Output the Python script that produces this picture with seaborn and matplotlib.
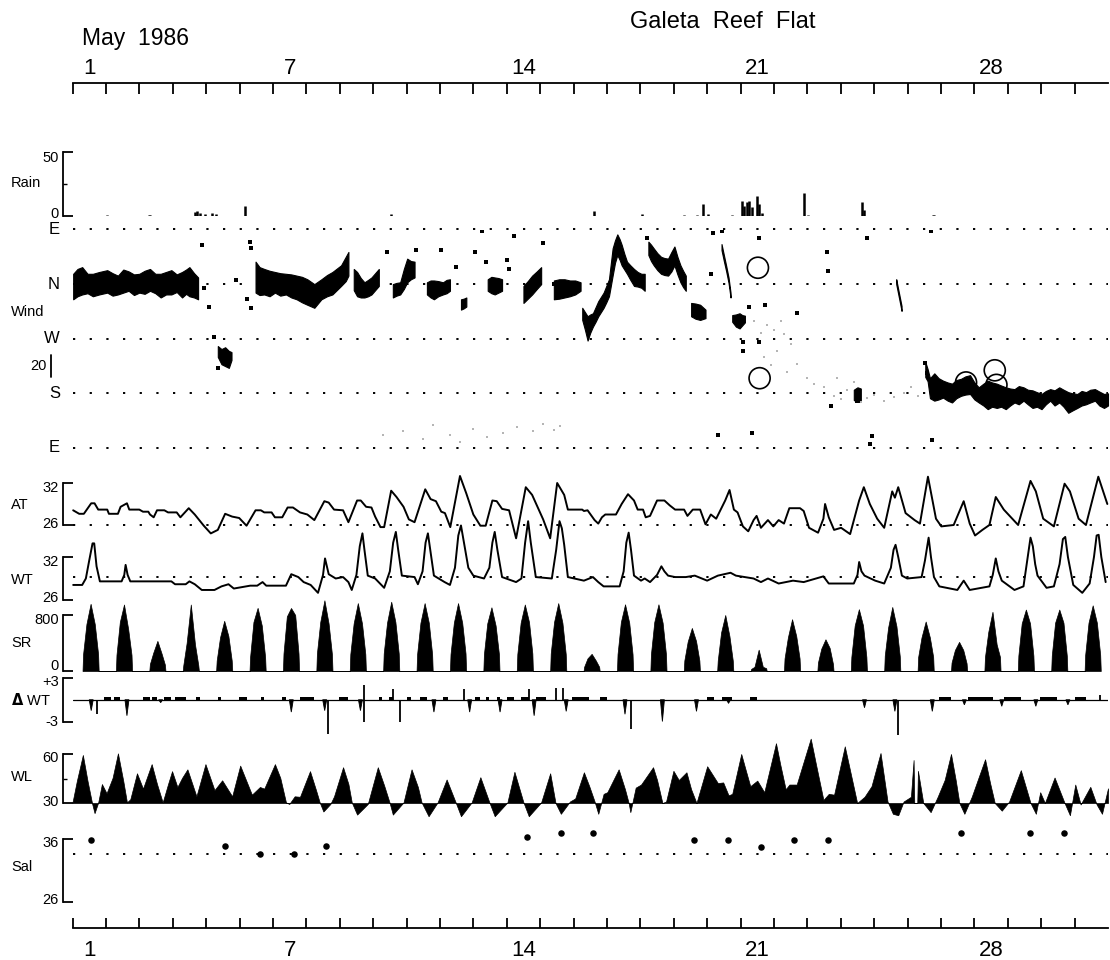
import matplotlib
matplotlib.use("Agg")
import matplotlib.pyplot as plt
from matplotlib.lines import Line2D
from matplotlib.transforms import ScaledTranslation
import seaborn as sns

sns.set_theme(style="white")
plt.rcParams['font.family'] = ['Liberation Sans', 'DejaVu Sans']
plt.rcParams['lines.scale_dashes'] = False
for key in ('text.color', 'axes.labelcolor', 'xtick.color', 'ytick.color'):
    plt.rcParams[key] = 'black'

# ---------------------------------------------------------------- data
# Rain (mm), spikes by time (day of May)
rain_day = [2.04, 3.29, 3.33, 4.66, 4.73, 4.82, 4.98, 5.19, 5.30, 6.16, 10.54,
            16.62, 18.06, 19.32, 19.69, 19.87, 20.04, 20.74, 21.04, 21.11, 21.19,
            21.26, 21.33, 21.48, 21.56, 21.63, 22.90, 23.03, 24.63, 24.70, 26.75, 26.80]
rain_mm = [0.6, 1.0, 0.8, 3.0, 4.0, 2.0, 1.5, 2.5, 1.5, 7.8, 1.5,
           3.6, 1.8, 1.0, 0.8, 9.4, 1.8, 0.8, 12.0, 8.0, 10.7,
           12.0, 7.0, 15.8, 9.4, 2.5, 17.6, 1.0, 10.7, 4.3, 1.0, 0.8]

# Wind direction traces (day, lower deg, upper deg); E=90, S=180, W=270, N=360, E=450
wind_segments = [
    [(1.02, 335, 377), (1.15, 340, 385), (1.29, 343, 388), (1.45, 345, 377), (1.61, 340, 377),
     (1.80, 343, 380), (2.04, 346, 383), (2.20, 341, 378), (2.36, 343, 374), (2.52, 346, 384),
     (2.68, 349, 381), (2.84, 342, 376), (3.00, 346, 377), (3.16, 344, 382), (3.32, 349, 385),
     (3.48, 345, 377), (3.64, 338, 377), (3.80, 343, 380), (3.96, 343, 383), (4.12, 347, 376),
     (4.28, 338, 380), (4.40, 344, 384), (4.50, 340, 388), (4.64, 338, 378), (4.76, 335, 371)],
    [(5.35, 240, 258), (5.46, 228, 253), (5.57, 225, 256), (5.68, 222, 250), (5.76, 235, 248)],
    [(6.48, 346, 397), (6.60, 342, 388), (6.74, 343, 385), (6.90, 340, 382), (7.06, 346, 380),
     (7.22, 341, 378), (7.39, 343, 377), (7.55, 338, 376), (7.71, 335, 374), (7.87, 330, 372),
     (8.03, 326, 368), (8.24, 321, 360), (8.45, 335, 368), (8.62, 340, 375), (8.78, 343, 380),
     (9.04, 357, 391), (9.18, 365, 405), (9.26, 374, 413)],
    [(9.42, 350, 385), (9.52, 340, 380), (9.63, 338, 370), (9.74, 338, 363), (9.85, 340, 367),
     (9.95, 343, 371), (10.06, 350, 378), (10.17, 357, 385)],
    [(10.59, 338, 360), (10.70, 341, 362), (10.81, 343, 363), (10.92, 352, 385), (11.02, 363, 402),
     (11.13, 368, 398), (11.24, 371, 397)],
    [(11.61, 343, 363), (11.72, 338, 366), (11.82, 335, 366), (11.95, 340, 365), (12.09, 343, 363),
     (12.20, 345, 367), (12.30, 349, 368)],
    [(12.63, 318, 335), (12.71, 320, 336), (12.79, 323, 338)],
    [(13.43, 349, 368), (13.54, 345, 372), (13.64, 343, 371), (13.75, 346, 370), (13.86, 349, 368)],
    [(14.50, 329, 357), (14.63, 336, 365), (14.76, 343, 374), (14.90, 352, 381), (15.03, 360, 388)],
    [(15.41, 335, 366), (15.57, 336, 368), (15.73, 338, 368), (15.89, 340, 366), (16.05, 343, 366),
     (16.21, 349, 363)],
    [(16.26, 301, 321), (16.34, 285, 314), (16.42, 267, 307), (16.50, 280, 310), (16.58, 290, 312),
     (16.66, 298, 322), (16.74, 307, 332), (16.82, 314, 339), (16.90, 321, 346), (16.98, 330, 357),
     (17.06, 340, 368), (17.17, 374, 419), (17.24, 395, 432), (17.31, 408, 442), (17.38, 400, 434),
     (17.44, 391, 425), (17.52, 384, 410), (17.60, 377, 397), (17.70, 367, 391), (17.81, 357, 385),
     (17.92, 356, 380), (18.03, 354, 377), (18.13, 349, 377)],
    [(18.24, 408, 430), (18.32, 398, 425), (18.40, 391, 419), (18.51, 383, 411), (18.62, 377, 405),
     (18.72, 375, 403), (18.83, 374, 402), (18.93, 381, 413), (19.02, 391, 422), (19.11, 376, 405),
     (19.20, 363, 391), (19.28, 355, 382), (19.36, 349, 374)],
    [(19.52, 307, 329), (19.65, 303, 328), (19.79, 301, 326), (19.95, 304, 318)],
    [(20.43, 416, 426), (20.50, 398, 408), (20.57, 381, 390), (20.64, 362, 371), (20.70, 338, 346)],
    [(20.75, 298, 309), (20.86, 290, 310), (20.97, 287, 312), (21.05, 292, 309), (21.13, 297, 308)],
    [(24.39, 169, 186), (24.50, 166, 190), (24.60, 166, 188)],
    [(25.66, 360, 368), (25.74, 338, 346), (25.82, 316, 324)],
    [(26.53, 207, 232), (26.60, 200, 220), (26.67, 172, 205), (26.80, 168, 213), (26.93, 170, 205),
     (27.06, 173, 201), (27.20, 168, 198), (27.33, 165, 196), (27.46, 172, 202), (27.60, 176, 204),
     (27.73, 178, 208), (27.87, 179, 210), (28.00, 170, 198), (28.13, 165, 190), (28.27, 160, 196),
     (28.40, 154, 201), (28.53, 158, 198), (28.67, 156, 196), (28.80, 158, 193), (28.94, 154, 190),
     (29.07, 160, 188), (29.20, 165, 187), (29.33, 162, 192), (29.47, 168, 190), (29.60, 162, 186),
     (29.74, 156, 185), (29.87, 158, 182), (30.01, 154, 179), (30.14, 162, 184), (30.27, 168, 187),
     (30.40, 160, 185), (30.54, 165, 190), (30.67, 158, 186), (30.81, 148, 182), (30.94, 152, 180),
     (31.08, 156, 179), (31.21, 160, 184), (31.34, 162, 182), (31.47, 165, 186), (31.61, 168, 187),
     (31.74, 160, 183), (31.88, 156, 179), (32.00, 160, 180)],
]
# isolated single readings
wind_dot_day = [4.87, 4.95, 5.09, 5.25, 5.35, 5.89, 6.21, 6.35, 6.35, 6.30, 10.43, 11.29,
                12.04, 12.47, 13.05, 13.37, 14.02, 14.07, 14.23, 13.27, 15.09, 15.41,
                18.19, 20.17, 20.11, 20.43, 21.24, 21.72, 21.08, 21.08, 21.56, 21.54,
                22.68, 23.59, 23.62, 24.79, 26.69, 23.70, 24.50, 24.87, 26.51, 26.58,
                21.34, 20.33, 26.74, 24.93]
wind_dot_dir = [425, 354, 322, 273, 222, 366, 335, 321, 419, 430, 413, 416,
                416, 388, 413, 397, 399, 385, 439, 447, 427, 360,
                436, 444, 377, 447, 323, 326, 250, 264, 264, 436,
                312, 413, 382, 436, 447, 159, 167, 96, 230, 213,
                115, 112, 104, 110]
# faint low-speed readings
wind_faint_day = [10.3, 10.9, 11.5, 11.8, 12.3, 12.6, 13.0, 13.4, 13.9, 14.3, 14.8, 15.1,
                  15.4, 15.6, 21.4, 21.6, 21.8, 22.0, 22.2, 22.3, 22.5, 21.7, 21.9, 22.1,
                  22.7, 23.0, 23.2, 23.5, 23.8, 24.0, 24.2, 24.6, 24.8, 25.0, 25.3, 25.6,
                  25.9, 26.1, 26.3, 22.4, 23.9, 24.4]
wind_faint_dir = [112, 118, 105, 128, 112, 100, 122, 108, 115, 124, 118, 130,
                  120, 126, 300, 280, 292, 285, 300, 278, 262, 240, 226, 250,
                  228, 205, 196, 190, 176, 170, 185, 165, 172, 178, 168, 174,
                  180, 190, 176, 216, 205, 198]
calm_day = [21.52, 21.57, 27.75, 28.61, 28.66]
calm_dir = [387, 205, 198, 218, 194]

# Air temperature (deg C)
at_day = [1.02, 1.20, 1.34, 1.56, 1.66, 1.77, 2.04, 2.09, 2.36, 2.44, 2.63, 2.70, 3.00, 3.11,
          3.27, 3.32, 3.43, 3.53, 3.75, 3.86, 4.12, 4.23, 4.48, 4.66, 4.93, 5.14, 5.35, 5.57,
          5.78, 5.99, 6.21, 6.48, 6.64, 6.74, 6.96, 7.06, 7.28, 7.44, 7.60, 7.81, 8.03, 8.24,
          8.54, 8.67, 8.83, 9.10, 9.26, 9.52, 9.63, 9.79, 9.95, 10.06, 10.22, 10.33, 10.54,
          10.70, 10.91, 11.07, 11.24, 11.56, 11.72, 11.88, 12.04, 12.15, 12.31, 12.60, 12.79,
          13.00, 13.21, 13.37, 13.57, 13.70, 13.86, 14.07, 14.28, 14.57, 14.76, 15.09, 15.30,
          15.51, 15.72, 15.83, 16.26, 16.31, 16.42, 16.63, 16.74, 16.85, 16.95, 17.27, 17.44,
          17.63, 17.81, 17.92, 18.08, 18.16, 18.29, 18.50, 18.72, 18.88, 19.04, 19.31, 19.41,
          19.57, 19.79, 19.95, 20.11, 20.27, 20.54, 20.67, 20.80, 20.91, 21.07, 21.23, 21.39,
          21.48, 21.61, 21.82, 21.98, 22.14, 22.30, 22.46, 22.78, 22.89, 23.05, 23.32, 23.48,
          23.53, 23.64, 23.80, 24.01, 24.28, 24.55, 24.69, 24.87, 25.09, 25.30, 25.54, 25.62,
          25.72, 25.94, 26.21, 26.37, 26.61, 26.85, 27.01, 27.38, 27.68, 27.86, 28.02, 28.24,
          28.45, 28.64, 28.88, 29.31, 29.68, 29.84, 30.06, 30.38, 30.70, 30.86, 31.12, 31.34,
          31.71, 31.98]
at_val = [28.1, 27.6, 27.6, 29.1, 29.1, 28.2, 28.2, 27.6, 27.6, 28.6, 29.1, 28.2, 28.2, 27.9,
          27.9, 27.5, 27.1, 28.1, 28.1, 27.8, 27.8, 27.1, 28.4, 27.5, 25.9, 24.8, 25.3, 27.6,
          27.2, 27.0, 25.9, 28.1, 28.1, 27.8, 27.8, 27.1, 27.1, 28.5, 28.5, 27.8, 27.5, 26.7,
          29.4, 29.2, 28.2, 28.1, 26.4, 29.5, 29.5, 28.6, 28.5, 27.2, 25.7, 25.7, 30.9,
          30.0, 28.6, 26.8, 26.4, 31.1, 29.7, 29.4, 27.9, 27.7, 25.7, 33.0, 30.5,
          27.5, 25.9, 25.9, 29.5, 29.4, 28.3, 28.1, 24.1, 31.4, 30.3, 26.8, 24.1,
          32.0, 30.3, 28.2, 28.2, 28.0, 28.1, 26.7, 26.2, 27.1, 27.5, 27.5, 29.0,
          30.4, 29.5, 28.2, 28.2, 27.1, 27.3, 29.5, 29.5, 28.8, 28.2, 28.2, 27.3,
          28.2, 28.2, 26.1, 27.5, 26.9, 29.5, 31.0, 28.2, 27.8, 25.8, 25.1, 26.7,
          27.3, 25.6, 26.7, 25.8, 26.7, 26.2, 28.4, 28.4, 28.0, 25.6, 24.9, 26.9,
          29.0, 27.1, 25.3, 25.6, 24.7, 29.5, 31.4, 29.0, 26.9, 25.6, 30.8, 29.9,
          31.4, 27.7, 26.7, 26.2, 32.9, 26.9, 25.8, 26.0, 29.4, 26.2, 24.5, 25.3,
          26.0, 30.0, 28.2, 26.0, 32.3, 30.8, 26.9, 25.8, 31.9, 30.8, 26.9, 26.0,
          32.9, 29.0]

# Water temperature (deg C)
wt_day = [1.02, 1.29, 1.40, 1.50, 1.60, 1.65, 1.72, 1.82, 2.47, 2.55, 2.59, 2.65, 2.73, 3.96,
          4.07, 4.39, 4.50, 4.66, 4.87, 5.25, 5.46, 5.67, 5.83, 6.32, 6.53, 6.69, 6.80, 7.39,
          7.55, 7.76, 7.92, 8.13, 8.35, 8.50, 8.56, 8.67, 8.88, 9.10, 9.26, 9.36, 9.50, 9.60,
          9.68, 9.74, 9.84, 10.06, 10.33, 10.50, 10.60, 10.68, 10.75, 10.86, 11.24, 11.34,
          11.48, 11.57, 11.64, 11.71, 11.82, 12.14, 12.30, 12.45, 12.55, 12.63, 12.72, 12.85,
          13.00, 13.32, 13.48, 13.57, 13.64, 13.72, 13.86, 14.28, 14.44, 14.55, 14.64, 14.72,
          14.87, 15.35, 15.48, 15.58, 15.65, 15.72, 15.83, 16.31, 16.58, 16.74, 16.90, 17.38,
          17.50, 17.58, 17.65, 17.72, 17.81, 18.02, 18.13, 18.29, 18.50, 18.63, 18.72, 18.83,
          19.04, 19.36, 19.63, 20.00, 20.32, 20.70, 20.86, 21.39, 21.61, 21.82, 22.14, 22.57,
          22.89, 23.48, 23.64, 24.39, 24.50, 24.55, 24.62, 24.71, 25.03, 25.30, 25.50, 25.58,
          25.64, 25.72, 25.83, 25.99, 26.42, 26.52, 26.63, 26.70, 26.79, 26.95, 27.49, 27.68,
          27.86, 28.45, 28.55, 28.64, 28.72, 28.82, 29.20, 29.47, 29.58, 29.68, 29.75, 29.82,
          29.89, 30.16, 30.38, 30.55, 30.65, 30.72, 30.80, 30.96, 31.23, 31.45, 31.58, 31.66,
          31.72, 31.80, 31.93]
wt_val = [28.1, 28.1, 29.0, 31.5, 33.9, 33.9, 30.7, 28.6, 28.6, 29.5, 30.9, 29.5, 28.6, 28.6,
          28.2, 28.2, 28.6, 28.2, 27.4, 27.4, 27.9, 28.2, 27.6, 28.0, 28.0, 28.5, 28.0, 28.0,
          29.6, 29.2, 28.5, 28.1, 27.0, 29.5, 31.8, 29.6, 29.0, 29.2, 28.5, 27.4, 29.5, 33.5,
          35.3, 33.0, 29.4, 29.0, 27.7, 30.0, 34.0, 35.5, 33.0, 29.4, 29.2, 28.2,
          30.0, 34.0, 35.3, 33.0, 29.4, 28.5, 28.1, 30.5, 35.0, 36.4, 34.0, 30.5,
          29.4, 29.0, 30.5, 34.0, 35.5, 33.0, 29.2, 28.5, 29.0, 34.0, 37.0, 34.0,
          29.2, 29.0, 33.0, 37.0, 36.0, 33.7, 29.2, 28.7, 29.2, 28.5, 27.9, 27.9,
          30.0, 34.0, 35.4, 33.0, 29.4, 28.7, 29.0, 28.5, 29.5, 30.7, 30.0, 29.4,
          29.2, 29.2, 29.4, 28.7, 29.4, 29.8, 29.4, 29.0, 28.5, 29.0, 28.3, 28.7,
          28.5, 29.3, 28.3, 28.3, 29.5, 31.3, 30.0, 29.4, 28.7, 28.3, 30.5, 33.0,
          33.7, 32.0, 29.4, 29.0, 29.2, 31.5, 34.7, 32.0, 29.2, 27.9, 27.4, 28.7,
          27.4, 27.9, 29.5, 31.8, 30.0, 28.7, 27.4, 27.9, 31.5, 34.7, 33.5, 31.0,
          29.4, 27.7, 27.9, 31.0, 34.5, 34.8, 32.0, 28.1, 27.0, 28.3, 32.0, 35.0,
          35.1, 32.0, 28.5]

# Solar radiation: readings at these local hours, one row per day (1..31 May)
sr_hours = [7.2, 7.6, 10.0, 13.0, 16.0, 18.4, 18.8]
sr_days = list(range(1, 32))
sr_table = [
    [0, 240, 670, 960, 670, 240, 0], [0, 230, 700, 950, 600, 230, 0],
    [0, 100, 260, 430, 250, 90, 0], [0, 80, 400, 950, 380, 80, 0],
    [0, 150, 480, 717, 500, 150, 0], [0, 200, 700, 902, 650, 200, 0],
    [0, 250, 780, 900, 800, 250, 0], [0, 250, 700, 1010, 680, 240, 0],
    [0, 240, 680, 970, 680, 240, 0], [0, 250, 690, 990, 700, 250, 0],
    [0, 240, 690, 970, 690, 240, 0], [0, 240, 690, 970, 690, 250, 0],
    [0, 240, 680, 910, 650, 240, 0], [0, 240, 690, 950, 700, 250, 0],
    [0, 250, 700, 970, 690, 240, 0], [0, 60, 180, 245, 150, 60, 0],
    [0, 240, 700, 953, 690, 240, 0], [0, 240, 700, 953, 690, 240, 0],
    [0, 150, 420, 615, 430, 150, 0], [0, 150, 550, 800, 500, 150, 0],
    [0, 30, 60, 305, 60, 40, 0], [0, 180, 480, 740, 500, 180, 0],
    [0, 120, 320, 453, 330, 100, 0], [0, 200, 650, 883, 650, 200, 0],
    [0, 220, 620, 915, 640, 210, 0], [0, 200, 480, 707, 480, 200, 0],
    [0, 120, 300, 416, 300, 110, 0], [0, 200, 560, 846, 380, 200, 0],
    [0, 220, 680, 878, 680, 220, 0], [0, 220, 690, 878, 690, 220, 0],
    [0, 230, 690, 938, 690, 230, 0],
]

# Water-temperature change (deg C)
dwt_dip_day = [1.56, 2.63, 3.64, 7.55, 8.55, 9.62, 11.82, 12.89, 13.80, 14.82, 15.78, 17.54,
               18.66, 19.68, 20.64, 24.71, 25.62, 26.74, 27.70, 28.82, 29.84, 30.80]
dwt_dip_val = [-1.5, -2.2, -0.4, -1.7, -1.5, -1.5, -1.7, -1.7, -1.7, -2.2, -1.6, -2.0,
               -3.0, -1.6, -0.5, -1.1, -1.6, -1.6, -0.7, -0.9, -0.9, -0.7]
dwt_spike_day = [1.72, 8.65, 9.72, 9.73, 10.59, 10.81, 12.73, 14.66, 15.46, 15.67, 17.73,
                 25.72, 31.77]
dwt_spike_val = [-1.95, -4.7, 2.1, -3.1, 1.45, -3.1, 1.45, 1.45, 1.6, 1.6, -4.1, -4.8, 0.7]
dwt_block_start = [1.93, 2.25, 3.11, 3.37, 3.75, 4.07, 4.71, 5.35, 5.99, 6.64, 7.28, 7.81,
                   8.99, 10.17, 10.49, 11.02, 11.40, 12.09, 13.05, 13.37, 13.70, 14.02, 14.44,
                   14.87, 15.94, 16.79, 20.00, 20.43, 21.29, 26.95, 27.81, 28.88, 29.95, 31.02]
dwt_block_end = [2.14, 2.41, 3.32, 3.53, 3.96, 4.39, 4.82, 5.46, 6.21, 6.74, 7.39, 8.24,
                 9.26, 10.27, 10.59, 11.13, 11.61, 12.25, 13.21, 13.48, 13.80, 14.23, 14.66,
                 15.19, 16.47, 17.01, 20.20, 20.75, 21.50, 27.29, 28.56, 29.41, 30.48, 31.34]
dwt_block_val = 0.4

# Water level (cm)
wl_day = [1.00, 1.13, 1.31, 1.45, 1.59, 1.66, 1.77, 1.88, 2.02, 2.20, 2.36, 2.52, 2.63, 2.73,
          2.93, 3.11, 3.37, 3.53, 3.70, 3.86, 3.98, 4.14, 4.28, 4.44, 4.71, 4.98, 5.25, 5.48,
          5.78, 6.02, 6.37, 6.61, 6.74, 7.06, 7.22, 7.39, 7.49, 7.65, 7.81, 8.11, 8.29, 8.40,
          8.51, 8.72, 8.83, 9.10, 9.26, 9.36, 9.52, 9.84, 10.14, 10.33, 10.49, 10.59, 10.91,
          11.15, 11.34, 11.45, 11.66, 11.93, 12.20, 12.47, 12.63, 12.95, 13.21, 13.48, 13.64,
          14.02, 14.23, 14.50, 14.66, 15.03, 15.30, 15.46, 15.62, 15.89, 16.05, 16.31, 16.47,
          16.63, 16.74, 16.90, 17.01, 17.35, 17.54, 17.65, 17.70, 17.86, 18.02, 18.38, 18.50,
          18.66, 18.77, 18.99, 19.15, 19.38, 19.52, 19.68, 20.00, 20.32, 20.48, 20.64, 20.75,
          21.02, 21.16, 21.29, 21.50, 21.71, 22.06, 22.19, 22.35, 22.46, 22.68, 23.10, 23.26,
          23.48, 23.64, 23.80, 24.12, 24.28, 24.49, 24.71, 24.92, 25.19, 25.40, 25.56, 25.72,
          25.88, 26.10, 26.18, 26.20, 26.29, 26.31, 26.47, 26.69, 26.90, 27.11, 27.30, 27.44,
          27.55, 27.70, 27.92, 28.13, 28.32, 28.47, 28.61, 28.82, 29.04, 29.39, 29.68, 29.84,
          29.97, 30.11, 30.40, 30.70, 30.86, 31.02, 31.18, 31.47, 31.66, 31.82, 32.00]
wl_val = [30.4, 43.5, 59.4, 43.5, 29.4, 23.8, 30.4, 41.6, 36.0, 45.4, 60.4, 43.5, 30.4, 32.3,
          48.2, 38.8, 53.8, 41.6, 30.4, 41.6, 49.5, 39.8, 45.4, 50.6, 34.1, 53.8, 37.9, 43.9,
          34.1, 52.9, 35.1, 39.8, 38.8, 53.8, 45.4, 30.4, 29.4, 34.1, 33.8, 49.5, 37.9, 30.4,
          24.8, 29.4, 34.1, 51.9, 41.6, 30.4, 22.9, 29.4, 51.9, 40.7, 30.4, 22.9, 30.4,
          50.6, 39.8, 30.4, 21.9, 30.4, 44.4, 30.4, 21.9, 30.4, 45.8, 30.4, 21.9,
          30.4, 49.1, 30.4, 21.9, 30.4, 48.2, 30.0, 23.4, 30.9, 32.8, 48.8, 40.3,
          30.9, 23.4, 35.6, 36.6, 50.6, 38.4, 30.0, 24.4, 39.4, 41.3, 51.9, 44.1,
          30.0, 30.9, 49.7, 44.1, 48.8, 38.4, 30.0, 52.5, 42.2, 42.6, 34.7, 35.6,
          60.0, 49.7, 40.3, 43.7, 36.6, 66.6, 53.4, 38.4, 41.3, 41.3, 69.4, 53.4,
          31.9, 35.6, 35.1, 64.7, 49.7, 30.0, 33.8, 40.3, 60.6, 30.9, 23.4, 22.5,
          30.9, 33.8, 56.3, 30.0, 30.0, 49.7, 30.0, 24.4, 33.8, 44.1, 60.0, 44.1,
          30.0, 23.4, 33.8, 45.9, 56.8, 42.2, 30.0, 25.3, 30.9, 50.1, 30.0, 23.4,
          36.6, 30.0, 45.6, 30.0, 22.5, 41.3, 29.1, 39.9, 29.1, 23.4, 39.0]

# Salinity (ppt), daily afternoon samples
sal_day = [1.54, 5.57, 6.61, 7.63, 8.59, 14.61, 15.62, 16.58, 19.60, 20.63, 21.62, 22.60,
           23.62, 27.60, 29.67, 30.69]
sal_val = [35.7, 34.8, 33.6, 33.6, 34.8, 36.3, 36.8, 36.8, 35.7, 35.7, 34.6, 35.7,
           35.7, 36.8, 36.8, 36.8]

# reference levels and axis labels
at_ref, wt_ref, sal_ref = 26.0, 29.25, 33.6
dir_levels = [450, 360, 270, 180, 90]
dir_names = ['E', 'N', 'W', 'S', 'E']
day_labels = ['1', '7', '14', '21', '28']

# ---------------------------------------------------------------- layout
W, H = 1110, 960
X0, X1 = 72.5, 1108.0          # pixel span of 1 May .. 1 June
DMIN, DMAX = 1, 32
PT = 72 / 100                  # points per pixel

fig = plt.figure(figsize=(W / 100, H / 100), dpi=100)
fig.patch.set_facecolor('white')
DOT = (0, (1.6, 10.4))


def fy(y):
    return 1 - y / H


def panel(top, bottom):
    ax = fig.add_axes([X0 / W, fy(bottom), (X1 - X0) / W, (bottom - top) / H])
    ax.set_xlim(DMIN, DMAX)
    ax.patch.set_alpha(0)
    for s in ax.spines.values():
        s.set_visible(False)
    ax.set_xticks([])
    ax.set_yticks([])
    ax.grid(False)
    return ax


def bracket(ax, lo, hi, labels, mid=None, up=3, down=3):
    ax.set_ylim(lo, hi)
    sp = ax.spines['left']
    sp.set_visible(True)
    sp.set_position(('outward', 9.5 * PT))
    sp.set_bounds(lo, hi)
    sp.set_linewidth(1.3)
    sp.set_color('black')
    ax.set_yticks([lo, hi])
    ax.set_yticklabels(labels)
    ax.tick_params(axis='y', which='major', direction='in', length=9.5 * PT, width=1.3,
                   pad=3, labelsize=10.5, left=True, colors='black')
    # end labels sit slightly inside the bracket
    lab_lo, lab_hi = ax.get_yticklabels()
    lab_lo.set_transform(lab_lo.get_transform() + ScaledTranslation(0, up / 100, fig.dpi_scale_trans))
    lab_hi.set_transform(lab_hi.get_transform() + ScaledTranslation(0, -down / 100, fig.dpi_scale_trans))
    if mid is not None:
        ax.set_yticks([mid], minor=True)
        ax.tick_params(axis='y', which='minor', direction='in', length=4 * PT, width=1.0,
                       left=True, colors='black')


def dotted(ax, y):
    ax.plot([DMIN, DMAX], [y, y], color='black', lw=1.4, linestyle=DOT, clip_on=False)


def name(text, y, **kw):
    fig.text(11 / W, fy(y), text, fontsize=10.5, ha='left', va='center', **kw)


# title and date axes
fig.text(630 / W, fy(22), 'Galeta  Reef  Flat', fontsize=17, ha='left', va='center')
fig.text(82 / W, fy(38), 'May  1986', fontsize=16.5, ha='left', va='center')


def date_axis(top, bottom, side):
    ax = panel(top, bottom)
    sp = ax.spines[side]
    sp.set_visible(True)
    sp.set_linewidth(1.3)
    sp.set_color('black')
    ax.set_xticks(range(1, 32))
    ax.set_xticks([int(s) + 0.5 for s in day_labels], minor=True)
    ax.set_xticklabels(day_labels, minor=True)
    ax.set_xticklabels([''] * 31)
    on_top = side == 'top'
    ax.tick_params(axis='x', which='major', direction='in', length=10.5 * PT, width=1.3,
                   top=on_top, bottom=not on_top, labeltop=False, labelbottom=False,
                   colors='black')
    ax.tick_params(axis='x', which='minor', length=0, top=on_top, bottom=not on_top,
                   labeltop=on_top, labelbottom=not on_top, labelsize=16, pad=3 if on_top else 9,
                   colors='black')
    return ax


date_axis(83, 94, 'top')
date_axis(917, 928, 'bottom')

# Rain
ax = panel(152, 216)
bracket(ax, 0, 50, ['0', '50'], mid=25, up=4, down=4)
ax.vlines(rain_day, 0, rain_mm, color='black', lw=1.8)
name('Rain', 183)

# Wind
ax = panel(229.5, 448)
ax.set_ylim(90, 450)
for lev, lab in zip(dir_levels, dir_names):
    dotted(ax, lev)
    ypx = 229.5 + (450 - lev) * (448 - 229.5) / 360
    fig.text(60 / W, fy(ypx), lab, fontsize=12, ha='right', va='center')
for seg in wind_segments:
    d, lo, hi = zip(*seg)
    ax.fill_between(d, lo, hi, color='black', lw=0.8, edgecolor='black', clip_on=False)
sns.scatterplot(x=wind_faint_day, y=wind_faint_dir, ax=ax, color='#b5b5b5', s=4,
                linewidth=0, marker='s')
sns.scatterplot(x=wind_dot_day, y=wind_dot_dir, ax=ax, color='black', s=6,
                linewidth=0, marker='s')
ax.scatter(calm_day, calm_dir, s=230, facecolors='none', edgecolors='black', linewidths=1.2,
           clip_on=False)
ax.set_xlabel('')
ax.set_ylabel('')
name('Wind', 312)
fig.text(47 / W, fy(366), '20', fontsize=10.5, ha='right', va='center')
fig.add_artist(Line2D([51 / W, 51 / W], [fy(355), fy(377)], color='black', lw=1.3))

# Air temperature
ax = panel(483, 525)
bracket(ax, 26, 32, ['26', '32'])
dotted(ax, at_ref)
sns.lineplot(x=at_day, y=at_val, ax=ax, color='black', linewidth=1.4, estimator=None,
             sort=False, clip_on=False)
ax.set_xlabel('')
ax.set_ylabel('')
name('AT', 505)

# Water temperature
ax = panel(557, 600)
bracket(ax, 26, 32, ['26', '32'])
dotted(ax, wt_ref)
sns.lineplot(x=wt_day, y=wt_val, ax=ax, color='black', linewidth=1.4, estimator=None,
             sort=False, clip_on=False)
ax.set_xlabel('')
ax.set_ylabel('')
name('WT', 580)

# Solar radiation
ax = panel(615, 671)
bracket(ax, 0, 800, ['0', '800'], up=6, down=3)
sr_t, sr_v = [], []
for d, row in zip(sr_days, sr_table):
    for h, v in zip(sr_hours, row):
        sr_t.append(d + h / 24)
        sr_v.append(v)
ax.fill_between(sr_t, 0, sr_v, color='black', lw=0.5, clip_on=False)
name('SR', 643)

# Water temperature change
ax = panel(678, 721.5)
bracket(ax, -3, 3, ['-3', '+3'], up=1, down=2)
ax.plot([DMIN, DMAX], [0, 0], color='black', lw=0.9)
for s, e in zip(dwt_block_start, dwt_block_end):
    ax.fill_between([s, e], 0, dwt_block_val, color='black', lw=0)
for d, v in zip(dwt_dip_day, dwt_dip_val):
    ax.fill([d - 0.06, d, d + 0.06], [0, v, 0], color='black', lw=0.6, clip_on=False)
ax.vlines(dwt_spike_day, 0, dwt_spike_val, color='black', lw=1.3, clip_on=False)
name(r'$\mathbf{\Delta}$ WT', 700)

# Water level
ax = panel(754, 803)
bracket(ax, 30, 60, ['30', '60'], mid=45)
ax.fill_between(wl_day, 30, wl_val, color='black', lw=0.5, clip_on=False)
name('WL', 777)

# Salinity
ax = panel(838.5, 901.5)
bracket(ax, 26, 36, ['26', '36'])
dotted(ax, sal_ref)
sns.scatterplot(x=sal_day, y=sal_val, ax=ax, color='black', s=22, linewidth=0, clip_on=False)
ax.set_xlabel('')
ax.set_ylabel('')
name('Sal', 867)

fig.savefig('out.png', dpi=100, facecolor='white')
